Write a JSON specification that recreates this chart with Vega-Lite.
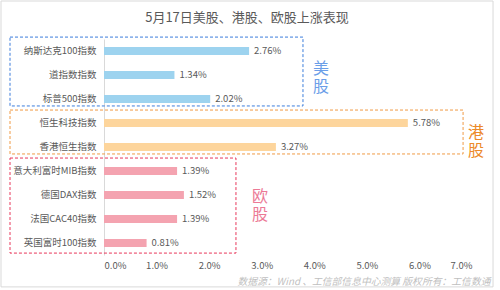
{
  "$schema": "https://vega.github.io/schema/vega-lite/v6.json",
  "width": 368,
  "height": 216,
  "autosize": "none",
  "padding": {"left": 104, "top": 39, "right": 28, "bottom": 35},
  "background": "white",
  "config": {
    "view": {"stroke": null},
    "font": "Noto Sans CJK SC",
    "text": {"font": "Noto Sans CJK SC"}
  },
  "title": {
    "text": "5月17日美股、港股、欧股上涨表现",
    "fontSize": 13,
    "fontWeight": "normal",
    "color": "#595959",
    "anchor": "middle",
    "frame": "group",
    "dx": -41,
    "offset": -24
  },
  "datasets": {
    "bars": [
      {"name": "纳斯达克100指数", "value": 0.0276, "group": "美股"},
      {"name": "道指数指数", "value": 0.0134, "group": "美股"},
      {"name": "标普500指数", "value": 0.0202, "group": "美股"},
      {"name": "恒生科技指数", "value": 0.0578, "group": "港股"},
      {"name": "香港恒生指数", "value": 0.0327, "group": "港股"},
      {"name": "意大利富时MIB指数", "value": 0.0139, "group": "欧股"},
      {"name": "德国DAX指数", "value": 0.0152, "group": "欧股"},
      {"name": "法国CAC40指数", "value": 0.0139, "group": "欧股"},
      {"name": "英国富时100指数", "value": 0.0081, "group": "欧股"}
    ],
    "boxes": [
      {"group": "美股", "x1": -0.01788, "x2": 0.03785, "y1": -0.08, "y2": 2.79},
      {"group": "港股", "x1": -0.01788, "x2": 0.0683, "y1": 2.96, "y2": 4.79},
      {"group": "欧股", "x1": -0.01788, "x2": 0.0251, "y1": 4.96, "y2": 8.92}
    ],
    "groups": [
      {"group": "美股", "label": "美\n股", "x": 0.04128, "y": 1.23},
      {"group": "港股", "label": "港\n股", "x": 0.07076, "y": 3.92},
      {"group": "欧股", "label": "欧\n股", "x": 0.02967, "y": 6.58}
    ],
    "frame": [
      {"x1": -0.01959, "x2": 0.074, "y1": -1.583, "y2": 10.33}
    ]
  },
  "layer": [
    {
      "data": {"name": "bars"},
      "layer": [
        {
          "mark": {"type": "bar"},
          "encoding": {
            "y": {
              "field": "name",
              "type": "nominal",
              "sort": null,
              "scale": {"paddingInner": 0.67, "paddingOuter": 0.335},
              "axis": {
                "title": null,
                "ticks": false,
                "domainColor": "#d9d9d9",
                "labelPadding": 8,
                "labelFontSize": 9.5,
                "labelColor": "#595959",
                "labelFont": "Noto Sans CJK SC"
              }
            },
            "x": {
              "field": "value",
              "type": "quantitative",
              "scale": {"domain": [0, 0.07]},
              "axis": {
                "values": [0, 0.01, 0.02, 0.03, 0.04, 0.05, 0.06, 0.07],
                "format": ".1%",
                "domain": false,
                "ticks": false,
                "grid": false,
                "labelFontSize": 9.5,
                "labelColor": "#595959",
                "labelPadding": 5,
                "labelFont": "Noto Sans CJK SC",
                "title": "数据源：Wind 、工信部信息中心测算   版权所有：工信数通",
                "titleFont": "Noto Sans CJK SC",
                "titleFontSize": 9.8,
                "titleFontStyle": "italic",
                "titleFontWeight": "normal",
                "titleColor": "#bfbfbf",
                "titleAnchor": "end",
                "titleAlign": "right",
                "titleX": 386,
                "titlePadding": 7
              }
            },
            "fill": {
              "field": "group",
              "type": "nominal",
              "scale": {"domain": ["美股", "港股", "欧股"], "range": ["#9dd3ef", "#fdd59c", "#f4a3b0"]},
              "legend": null
            }
          }
        },
        {
          "mark": {"type": "text", "align": "left", "baseline": "middle", "dx": 5, "fontSize": 9.5, "color": "#595959"},
          "encoding": {
            "y": {"field": "name", "type": "nominal", "sort": null},
            "x": {"field": "value", "type": "quantitative", "scale": {"domain": [0, 0.07]}},
            "text": {"field": "value", "type": "quantitative", "format": ".2%"}
          }
        }
      ]
    },
    {
      "layer": [
        {
          "data": {"name": "frame"},
          "mark": {"type": "rect", "fill": null, "stroke": "#d9d9d9", "strokeWidth": 1},
          "encoding": {
            "x": {"field": "x1", "type": "quantitative", "scale": {"domain": [0, 0.07]}},
            "x2": {"field": "x2"},
            "y": {"field": "y1", "type": "quantitative", "scale": {"domain": [0, 9], "reverse": true, "zero": false, "nice": false}, "axis": null},
            "y2": {"field": "y2"}
          }
        },
        {
          "data": {"name": "boxes"},
          "mark": {"type": "rect", "fill": null, "strokeWidth": 1, "strokeDash": [3, 2]},
          "encoding": {
            "x": {"field": "x1", "type": "quantitative", "scale": {"domain": [0, 0.07]}},
            "x2": {"field": "x2"},
            "y": {"field": "y1", "type": "quantitative", "scale": {"domain": [0, 9], "reverse": true, "zero": false, "nice": false}, "axis": null},
            "y2": {"field": "y2"},
            "stroke": {
              "field": "group",
              "type": "nominal",
              "scale": {"domain": ["美股", "港股", "欧股"], "range": ["#3c7ddc", "#f09a45", "#e8365a"]},
              "legend": null
            }
          }
        },
        {
          "data": {"name": "groups"},
          "mark": {"type": "text", "lineBreak": "\n", "fontSize": 16, "lineHeight": 18, "align": "center", "baseline": "middle"},
          "encoding": {
            "x": {"field": "x", "type": "quantitative", "scale": {"domain": [0, 0.07]}},
            "y": {"field": "y", "type": "quantitative", "scale": {"domain": [0, 9], "reverse": true, "zero": false, "nice": false}, "axis": null},
            "text": {"field": "label"},
            "color": {
              "field": "group",
              "type": "nominal",
              "scale": {"domain": ["美股", "港股", "欧股"], "range": ["#6b9ee8", "#ec8a2a", "#ec7a96"]},
              "legend": null
            }
          }
        }
      ]
    }
  ],
  "resolve": {"scale": {"y": "independent"}}
}
